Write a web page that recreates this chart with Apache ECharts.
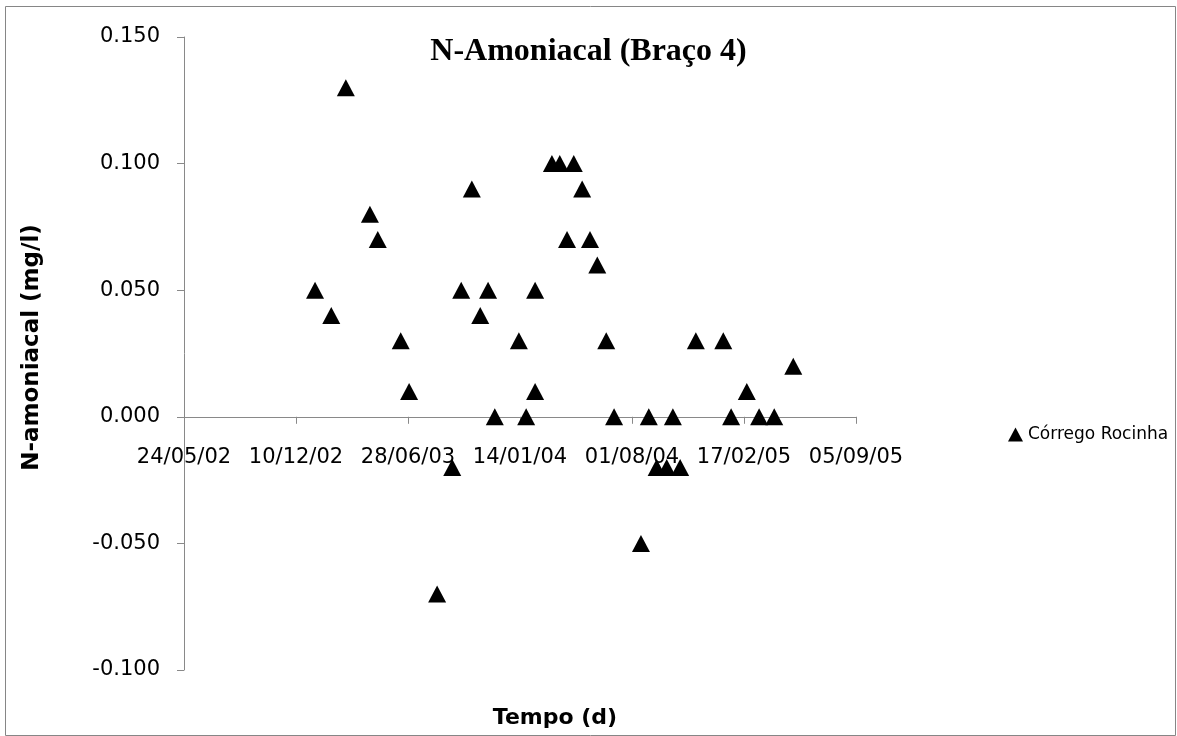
<!DOCTYPE html>
<html>
<head>
<meta charset="utf-8">
<script src="https://cdn.jsdelivr.net/npm/echarts@6/dist/echarts.min.js"></script>
<style>
html,body{margin:0;padding:0;background:#fff;}
#chart{width:1177px;height:736px;}
</style>
</head>
<body>
<div id="chart"></div>
<script>
// ---- data ----
const sampleDates = [
  '2003-01-13','2003-02-11','2003-03-09','2003-04-21','2003-05-05','2003-06-15','2003-06-30',
  '2003-08-19','2003-09-15','2003-10-01','2003-10-20','2003-11-04','2003-11-18','2003-11-30',
  '2004-01-12','2004-01-25','2004-02-10','2004-02-10','2004-03-11','2004-03-25','2004-04-07',
  '2004-04-19','2004-05-04','2004-05-18','2004-05-31','2004-06-16','2004-06-30','2004-08-17',
  '2004-08-31','2004-09-14','2004-10-02','2004-10-13','2004-10-26','2004-11-23','2005-01-11',
  '2005-01-25','2005-02-22','2005-03-16','2005-04-12','2005-05-16'
];
const ammoniaValues = [
  0.050,0.040,0.130,0.080,0.070,0.030,0.010,
  -0.070,-0.020,0.050,0.090,0.040,0.050,0.000,
  0.030,0.000,0.050,0.010,0.100,0.100,0.070,
  0.100,0.090,0.070,0.060,0.030,0.000,-0.050,
  0.000,-0.020,-0.020,0.000,-0.020,0.030,0.030,
  0.000,0.010,0.000,0.000,0.020
];
const seriesName = 'Córrego Rocinha';
const chartTitle = 'N-Amoniacal (Braço 4)';
const xAxisTitle = 'Tempo (d)';
const yAxisTitle = 'N-amoniacal (mg/l)';
const xAxisStart = '2002-05-24';
const xAxisEnd = '2005-09-05';
const xTickDays = 200;
const yMin = -0.100, yMax = 0.150, yStep = 0.050;

// Excel-style serial day numbers
function serial(s){
  const p = s.split('-').map(Number);
  return Math.round((Date.UTC(p[0],p[1]-1,p[2]) - Date.UTC(1899,11,30))/86400000);
}
function fmtSerial(v){
  const d = new Date(Date.UTC(1899,11,30) + Math.round(v)*86400000);
  const dd = String(d.getUTCDate()).padStart(2,'0');
  const mm = String(d.getUTCMonth()+1).padStart(2,'0');
  const yy = String(d.getUTCFullYear()%100).padStart(2,'0');
  return dd+'/'+mm+'/'+yy;
}
const points = sampleDates.map((d,i)=>[serial(d), ammoniaValues[i]]);

const W = 1177, H = 736;
const gridTop = 37, gridBottom = 66, gridLeft = 184, gridRight = 321;
const gridH = H - gridTop - gridBottom;
// x axis crosses the value axis at 0 (as in the original)
const xAxisOffset = -gridH * (0 - yMin) / (yMax - yMin);

const chart = echarts.init(document.getElementById('chart'), null, {renderer:'canvas'});
const sans = 'DejaVu Sans';
const axisGrey = '#898989';
chart.setOption({
  backgroundColor:'#ffffff',
  animation:false,
  title:{
    text: chartTitle,
    left:'center',
    top:31,
    textStyle:{fontFamily:'Liberation Serif', fontWeight:'bold', fontSize:32, color:'#000'}
  },
  legend:{
    data:[{name:seriesName, icon:'triangle', itemStyle:{color:'#000', opacity:1}}],
    left:1003, top:421,
    itemWidth:15, itemHeight:14, itemGap:6,
    textStyle:{fontFamily:sans, fontSize:17, color:'#000'}
  },
  grid:{left:gridLeft, right:gridRight, top:gridTop, bottom:gridBottom, containLabel:false, outerBoundsMode:'none'},
  xAxis:{
    type:'value',
    position:'bottom',
    offset:xAxisOffset,
    min:serial(xAxisStart), max:serial(xAxisEnd), interval:xTickDays,
    name:xAxisTitle, nameLocation:'middle', nameGap:290,
    nameTextStyle:{fontFamily:sans, fontWeight:'bold', fontSize:22, color:'#000', padding:[0,0,0,70]},
    axisLine:{onZero:false, lineStyle:{color:axisGrey, width:1}},
    axisTick:{show:true, length:7, lineStyle:{color:axisGrey}},
    axisLabel:{formatter:fmtSerial, margin:30, fontFamily:sans, fontSize:21, color:'#000', showMinLabel:true, showMaxLabel:true},
    splitLine:{show:false}
  },
  yAxis:{
    type:'value',
    min:yMin, max:yMax, interval:yStep,
    name:yAxisTitle, nameLocation:'middle', nameGap:140, nameRotate:90,
    nameTextStyle:{fontFamily:sans, fontWeight:'bold', fontSize:23, color:'#000', padding:[0,0,0,12]},
    axisLine:{show:true, lineStyle:{color:axisGrey, width:1}},
    axisTick:{show:true, length:7, lineStyle:{color:axisGrey}},
    axisLabel:{formatter:v=>v.toFixed(3), margin:24, fontFamily:sans, fontSize:21, color:'#000'},
    splitLine:{show:false}
  },
  graphic:[{
    type:'rect', silent:true, z:-1,
    shape:{x:5.5, y:6.5, width:1170, height:729},
    style:{fill:null, stroke:'#868686', lineWidth:1}
  }],
  series:[{
    name:seriesName,
    type:'scatter',
    symbol:'triangle',
    symbolSize:[18,17],
    itemStyle:{color:'#000', opacity:1},
    emphasis:{disabled:true},
    data:points
  }]
});
</script>
</body>
</html>
